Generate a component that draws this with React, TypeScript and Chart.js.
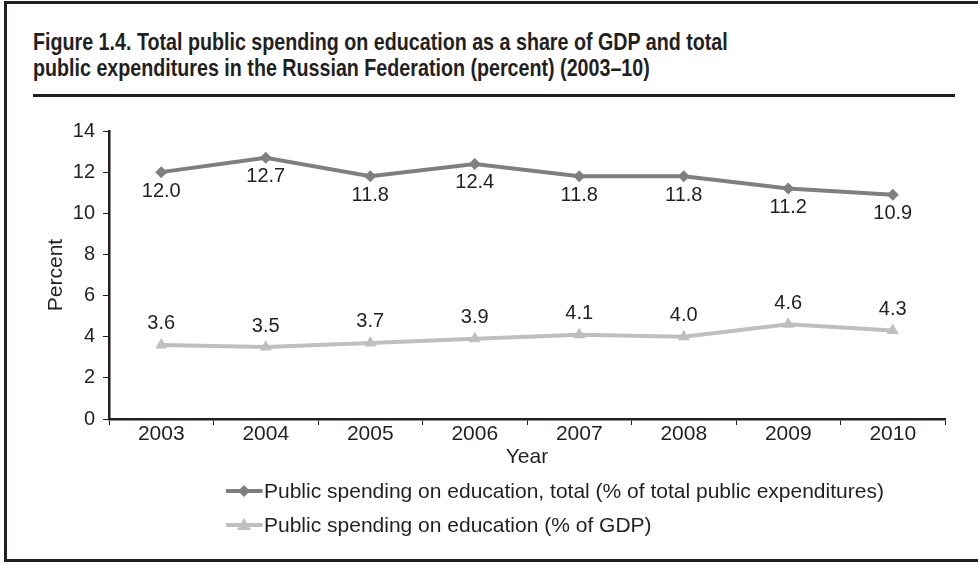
import React, { useEffect, useRef } from "react";
import { Chart, registerables } from "chart.js";

Chart.register(...registerables);

const years = ["2003", "2004", "2005", "2006", "2007", "2008", "2009", "2010"];
const totalShare = [12.0, 12.7, 11.8, 12.4, 11.8, 11.8, 11.2, 10.9];
const gdpShare = [3.6, 3.5, 3.7, 3.9, 4.1, 4.0, 4.6, 4.3];
const seriesNames = [
  "Public spending on education, total (% of total public expenditures)",
  "Public spending on education (% of GDP)",
];
const titleLines = [
  "Figure 1.4. Total public spending on education as a share of GDP and total",
  "public expenditures in the Russian Federation (percent) (2003\u201310)",
];

const INK = "#231f20";
const DARK = "#7f7f7f";
const LIGHT = "#bfbfbf";
const FONT = "'Liberation Sans', Arial, sans-serif";

const labelPlugin = {
  id: "valueLabels",
  afterDatasetsDraw(chart: any) {
    const ctx = chart.ctx;
    ctx.save();
    ctx.font = `20px ${FONT}`;
    ctx.fillStyle = INK;
    ctx.textAlign = "center";
    ctx.textBaseline = "middle";
    chart.data.datasets.forEach((ds: any, i: number) => {
      const meta = chart.getDatasetMeta(i);
      meta.data.forEach((pt: any, j: number) => {
        const v = ds.data[j] as number;
        const dy = i === 0 ? 19 : -21;
        ctx.fillText(v.toFixed(1), pt.x, pt.y + dy);
      });
    });
    ctx.restore();
  },
};

function LegendMarker({ color, shape }: { color: string; shape: string }) {
  return (
    <svg width={37} height={16} style={{ display: "block" }}>
      <line x1={1} y1={8} x2={35} y2={8} stroke={color} strokeWidth={4} strokeLinecap="round" />
      {shape === "diamond" ? (
        <polygon points="18,2 24,8 18,14 12,8" fill={color} />
      ) : (
        <polygon points="18,1 25,13 11,13" fill={color} />
      )}
    </svg>
  );
}

export default function App() {
  const canvasRef = useRef<HTMLCanvasElement | null>(null);

  useEffect(() => {
    const canvas = canvasRef.current;
    if (!canvas) return;
    const chart = new Chart(canvas, {
      type: "line",
      data: {
        labels: years,
        datasets: [
          {
            label: seriesNames[0],
            data: totalShare,
            borderColor: DARK,
            backgroundColor: DARK,
            borderWidth: 4,
            pointStyle: "rectRot",
            pointRadius: 6,
            pointBorderWidth: 0,
            tension: 0,
          },
          {
            label: seriesNames[1],
            data: gdpShare,
            borderColor: LIGHT,
            backgroundColor: LIGHT,
            borderWidth: 4,
            pointStyle: "triangle",
            pointRadius: 7,
            pointBorderWidth: 0,
            tension: 0,
          },
        ],
      },
      options: {
        responsive: false,
        animation: false,
        devicePixelRatio: 1,
        layout: { padding: { left: 40, right: 33, top: 131, bottom: 96 } },
        plugins: {
          legend: { display: false },
          tooltip: { enabled: false },
          title: { display: false },
        },
        scales: {
          x: {
            type: "category",
            offset: true,
            grid: {
              offset: true,
              drawOnChartArea: false,
              drawTicks: true,
              tickLength: 6,
              color: INK,
              lineWidth: 1,
            },
            border: { display: true, color: INK, width: 2.5 },
            ticks: {
              color: INK,
              font: { family: FONT, size: 21, lineHeight: 1 },
              padding: -1,
              maxRotation: 0,
            },
            title: {
              display: true,
              text: "Year",
              color: INK,
              font: { family: FONT, size: 21 },
              padding: 0,
            },
            afterFit: (scale: any) => {
              scale.height = 51;
            },
          },
          y: {
            min: 0,
            max: 14,
            grid: {
              drawOnChartArea: false,
              drawTicks: true,
              tickLength: 6,
              color: INK,
              lineWidth: 1,
            },
            border: { display: true, color: INK, width: 2.5 },
            ticks: { stepSize: 2, color: INK, font: { family: FONT, size: 20 }, padding: 8 },
            title: {
              display: true,
              text: "Percent",
              color: INK,
              font: { family: FONT, size: 21 },
              padding: { top: 4, bottom: 0 },
            },
            afterFit: (scale: any) => {
              scale.width = 69;
            },
          },
        },
      },
      plugins: [labelPlugin],
    });
    return () => chart.destroy();
  }, []);

  return (
    <div style={{ position: "absolute", left: 0, top: 0, width: 978, height: 566, background: "#fff", overflow: "hidden" }}>
      <div
        style={{
          position: "absolute",
          left: 4,
          top: 1,
          width: 980,
          height: 561,
          border: `3px solid ${INK}`,
          boxSizing: "border-box",
        }}
      />
      <div
        style={{
          position: "absolute",
          left: 33,
          top: 29,
          fontFamily: "'Liberation Sans Narrow', 'Arial Narrow', 'Liberation Sans', sans-serif",
          fontWeight: "bold",
          fontSize: 24,
          lineHeight: "26px",
          color: INK,
          whiteSpace: "nowrap",
          transform: "scaleX(0.82)",
          transformOrigin: "0 0",
        }}
      >
        {titleLines.map((t, i) => (
          <div key={i}>{t}</div>
        ))}
      </div>
      <div style={{ position: "absolute", left: 33, top: 94, width: 922, height: 3, background: INK }} />
      <canvas ref={canvasRef} width={978} height={566} style={{ position: "absolute", left: 0, top: 0, display: "block" }} />
      <div style={{ position: "absolute", left: 226, top: 474, fontFamily: FONT, fontSize: 21, color: INK }}>
        {seriesNames.map((n, i) => (
          <div key={i} style={{ display: "flex", alignItems: "center", height: 34 }}>
            <LegendMarker color={i === 0 ? DARK : LIGHT} shape={i === 0 ? "diamond" : "triangle"} />
            <span style={{ marginLeft: 1, whiteSpace: "nowrap" }}>{n}</span>
          </div>
        ))}
      </div>
    </div>
  );
}
